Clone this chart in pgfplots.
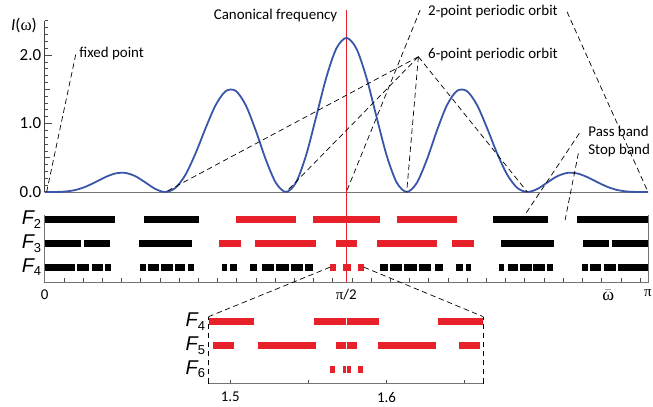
\documentclass[border=0pt]{standalone}
\usepackage{fontspec}
\setmainfont{Carlito}
\newfontfamily\symf{Liberation Serif}
\newfontfamily\fsf{Liberation Sans}
\usepackage{pgfplots}
\pgfplotsset{compat=1.18}
\definecolor{curveblue}{RGB}{58,86,168}
\definecolor{bandred}{RGB}{232,32,42}
\definecolor{axgray}{RGB}{115,115,115}
\newcommand{\Flab}[1]{{\fontsize{20}{20}\selectfont\fsf\itshape F}\raisebox{-3.5bp}{\fontsize{13}{13}\selectfont\fsf #1}}
\pgfplotsset{
  bandbar/.style={line width=7.3bp, unbounded coords=jump, forget plot},
}
\tikzset{
  annot/.style={black, line width=0.7bp, dash pattern=on 5.5bp off 3.5bp},
  lbl/.style={font=\fontsize{15}{18}\selectfont, inner sep=0pt},
}
\begin{document}
\begin{tikzpicture}
\useasboundingbox (0bp,0bp) rectangle (653bp,407bp);

% ---------------- spectrum I(omega) ----------------
\begin{axis}[
  at={(44.7bp,215bp)}, anchor=south west,
  scale only axis, width=603.3bp, height=171.25bp,
  xmin=0, xmax=3.14159, ymin=0, ymax=2.5,
  axis line style={draw=none},
  clip=false,
  xtick=\empty,
  minor xtick={0.1,0.2,...,3.1},
  ytick={0,1,2}, yticklabels={0.0,1.0,2.0},
  minor ytick={0.1,0.2,...,2.5},
  extra y ticks={0.5,1.5}, extra y tick labels={{},{}},
  extra y tick style={major tick length=5bp, ytick pos=left},
  major tick length=7bp, minor tick length=3.5bp,
  xtick pos=left, ytick pos=left,
  tick style={black!70, line width=0.6bp},
  yticklabel style={font=\fontsize{17}{17}\selectfont},
]
\draw[axgray, line width=0.8bp] (axis cs:0,0) -- (axis cs:3.14159,0);
\draw[black!75, line width=0.8bp] (axis cs:0,0) -- (axis cs:0,2.5);

% canonical frequency
\addplot[draw=bandred, color=bandred, line width=1.1bp, forget plot] coordinates {(1.5708,-1.314) (1.5708,2.657)};

\addplot[curveblue, line width=1.8bp, smooth] coordinates {
(0,0) (0.0524,0.0004) (0.1047,0.0061) (0.1571,0.0275) (0.2094,0.0729) (0.2618,0.1406)
(0.3142,0.2149) (0.3665,0.2696) (0.4189,0.2792) (0.4712,0.2319) (0.5236,0.1406) (0.5760,0.0447)
(0.6283,0) (0.6807,0.0597) (0.7330,0.2519) (0.7854,0.5625) (0.8378,0.9319) (0.8901,1.2679)
(0.9425,1.4726) (0.9948,1.4766) (1.0472,1.2656) (1.0996,0.8931) (1.1519,0.4694) (1.2043,0.1314)
(1.2566,0) (1.3090,0.1406) (1.3614,0.5382) (1.4137,1.0975) (1.4661,1.6690) (1.5184,2.0935)
(1.5708,2.25)
(1.6232,2.0935) (1.6755,1.6690) (1.7279,1.0975) (1.7802,0.5382) (1.8326,0.1406) (1.8850,0)
(1.9373,0.1314) (1.9897,0.4694) (2.0420,0.8931) (2.0944,1.2656) (2.1468,1.4766) (2.1991,1.4726)
(2.2515,1.2679) (2.3038,0.9319) (2.3562,0.5625) (2.4086,0.2519) (2.4609,0.0597) (2.5133,0)
(2.5656,0.0447) (2.6180,0.1406) (2.6704,0.2319) (2.7227,0.2792) (2.7751,0.2696) (2.8274,0.2149)
(2.8798,0.1406) (2.9322,0.0729) (2.9845,0.0275) (3.0369,0.0061) (3.0892,0.0004) (3.1416,0)
};

% annotations
\draw[annot] (axis cs:0.01,0) -- (axis cs:0.163,2.025);
\node[lbl, anchor=west] at (axis cs:0.18,2.015) {fixed point};
\node[lbl] at (axis cs:1.202,2.574) {Canonical frequency};
\draw[annot] (axis cs:1.955,2.657) -- (axis cs:1.5708,0);
\draw[annot] (axis cs:2.72,2.63) -- (axis cs:3.1416,0);
\node[lbl, anchor=west] at (axis cs:1.996,2.628) {2-point periodic orbit};
\draw[annot] (axis cs:1.946,1.975) -- (axis cs:0.6283,0);
\draw[annot] (axis cs:1.946,1.975) -- (axis cs:1.2566,0);
\draw[annot] (axis cs:1.946,1.975) -- (axis cs:1.8850,0);
\draw[annot] (axis cs:1.946,1.975) -- (axis cs:2.5133,0);
\node[lbl, anchor=west] at (axis cs:1.996,2.010) {6-point periodic orbit};
\draw[annot] (axis cs:2.784,0.857) -- (axis cs:2.507,-0.307);
\draw[annot] (axis cs:2.779,0.565) -- (axis cs:2.710,-0.409);
\node[lbl, anchor=west] at (axis cs:2.830,0.890) {Pass band};
\node[lbl, anchor=west] at (axis cs:2.830,0.603) {Stop band};
\end{axis}

% ---------------- bands F2, F3, F4 ----------------
\begin{axis}[
  at={(44.7bp,125bp)}, anchor=south west,
  scale only axis, width=603.3bp, height=67bp,
  xmin=0, xmax=3.14159, ymin=0.375, ymax=3.2,
  axis line style={draw=none}, clip=false,
  xtick={0,1.5708,2.935,3.14159},
  xticklabels={0,{\symf π}/2,{\fontsize{18}{18}\selectfont$\bar{\hbox{\symf ω}}$},{\symf π}},
  minor xtick={0.1,0.2,...,3.1},
  ytick={1,2,3}, yticklabels={\Flab{4},\Flab{3},\Flab{2}},
  major tick length=0bp, minor tick length=4bp,
  xtick pos=left, ytick pos=left,
  tick style={black!70, line width=0.6bp},
  xticklabel style={font=\fontsize{15}{15}\selectfont, yshift=-4bp},
]
\draw[axgray, line width=0.8bp] (rel axis cs:0,1) -- (rel axis cs:0,0) -- (rel axis cs:1,0) -- (rel axis cs:1,1);

% F2
\addplot[bandbar, black] coordinates {(0,3) (0.368,3) (0.4,nan) (0.519,3) (0.805,3) (0.9,nan)
  (2.337,3) (2.623,3) (2.7,nan) (2.774,3) (3.1416,3)};
\addplot[bandbar, bandred] coordinates {(0.996,3) (1.309,3) (1.35,nan) (1.395,3) (1.747,3) (1.8,nan)
  (1.833,3) (2.146,3)};
% F3
\addplot[bandbar, black] coordinates {(0,2) (0.190,2) (0.2,nan) (0.206,2) (0.340,2) (0.4,nan)
  (0.491,2) (0.765,2) (0.8,nan) (2.377,2) (2.651,2) (2.7,nan) (2.802,2) (2.936,2) (2.94,nan)
  (2.952,2) (3.1416,2)};
\addplot[bandbar, bandred] coordinates {(0.909,2) (1.021,2) (1.05,nan) (1.097,2) (1.411,2) (1.45,nan)
  (1.517,2) (1.626,2) (1.7,nan) (1.731,2) (2.045,2) (2.1,nan) (2.121,2) (2.233,2)};
% F4
\addplot[bandbar, black] coordinates {
  (0,1) (0.157,1) (0.16,nan) (0.167,1) (0.232,1) (0.24,nan) (0.245,1) (0.302,1) (0.31,nan)
  (0.314,1) (0.344,1) (0.4,nan) (0.496,1) (0.528,1) (0.53,nan) (0.536,1) (0.597,1) (0.6,nan)
  (0.606,1) (0.667,1) (0.67,nan) (0.679,1) (0.731,1) (0.74,nan) (0.748,1) (0.778,1) (0.8,nan)
  (0.921,1) (0.947,1) (0.95,nan) (0.965,1) (0.999,1) (1.0,nan) (1.069,1) (1.107,1) (1.11,nan)
  (1.133,1) (1.194,1) (1.2,nan) (1.203,1) (1.272,1) (1.275,nan) (1.280,1) (1.345,1) (1.35,nan)
  (1.356,1) (1.396,1) (1.5,nan)
  (1.746,1) (1.786,1) (1.79,nan) (1.797,1) (1.862,1) (1.865,nan) (1.870,1) (1.939,1) (1.94,nan)
  (1.948,1) (2.009,1) (2.02,nan) (2.035,1) (2.073,1) (2.1,nan) (2.143,1) (2.177,1) (2.18,nan)
  (2.195,1) (2.221,1) (2.3,nan) (2.364,1) (2.394,1) (2.4,nan) (2.411,1) (2.463,1) (2.47,nan)
  (2.475,1) (2.536,1) (2.54,nan) (2.545,1) (2.606,1) (2.61,nan) (2.614,1) (2.646,1) (2.7,nan)
  (2.798,1) (2.828,1) (2.83,nan) (2.840,1) (2.897,1) (2.9,nan) (2.910,1) (2.975,1) (2.98,nan)
  (2.985,1) (3.1416,1)};
\addplot[bandbar, bandred] coordinates {(1.486,1) (1.515,1) (1.53,nan) (1.554,1) (1.595,1) (1.6,nan)
  (1.633,1) (1.662,1)};
\coordinate (cL) at (axis cs:1.486,1);
\coordinate (cR) at (axis cs:1.662,1);
\end{axis}

% ---------------- zoomed inset F4, F5, F6 ----------------
\begin{axis}[
  at={(208.5bp,23.5bp)}, anchor=south west,
  scale only axis, width=274.8bp, height=66.8bp,
  xmin=1.486, xmax=1.662, ymin=0.40, ymax=3.21,
  axis line style={draw=none}, clip=false,
  xtick={1.5,1.6}, xticklabels={1.5,1.6},
  minor xtick={1.5,1.55,1.6,1.65},
  ytick={1,2,3}, yticklabels={\Flab{6},\Flab{5},\Flab{4}},
  major tick length=0bp, minor tick length=4bp,
  xtick pos=left, ytick pos=left,
  tick style={black!70, line width=0.6bp},
  xticklabel style={font=\fontsize{15}{15}\selectfont, yshift=-5bp},
]
\draw[axgray, line width=0.8bp] (rel axis cs:0,0) -- (rel axis cs:1,0);
\draw[annot] (rel axis cs:0,0) -- (rel axis cs:0,1);
\draw[annot] (rel axis cs:1,0) -- (rel axis cs:1,1);
% F4
\addplot[bandbar, bandred] coordinates {(1.4865,3) (1.5153,3) (1.53,nan) (1.5538,3) (1.5740,3)
  (1.5743,nan) (1.5746,3) (1.5954,3) (1.6,nan) (1.6328,3) (1.6620,3)};
% F5
\addplot[bandbar, bandred] coordinates {(1.4891,2) (1.5025,2) (1.51,nan) (1.5179,2) (1.5547,2)
  (1.56,nan) (1.5677,2) (1.5740,2) (1.5743,nan) (1.5746,2) (1.5813,2) (1.59,nan)
  (1.5944,2) (1.6316,2) (1.64,nan) (1.6465,2) (1.6599,2)};
% F6
\addplot[bandbar, bandred] coordinates {(1.5638,1) (1.5672,1) (1.57,nan) (1.5722,1) (1.5740,1)
  (1.5743,nan) (1.5746,1) (1.5770,1) (1.58,nan) (1.5818,1) (1.5852,1)};
\coordinate (iL) at (rel axis cs:0,1);
\coordinate (iR) at (rel axis cs:1,1);
\end{axis}

\draw[annot] (cL) -- (iL);
\draw[annot] (cR) -- (iR);

\node[font=\fontsize{17}{17}\selectfont, inner sep=0pt] at (24bp,382bp) {{\itshape I}({\symf ω})};
\end{tikzpicture}
\end{document}
